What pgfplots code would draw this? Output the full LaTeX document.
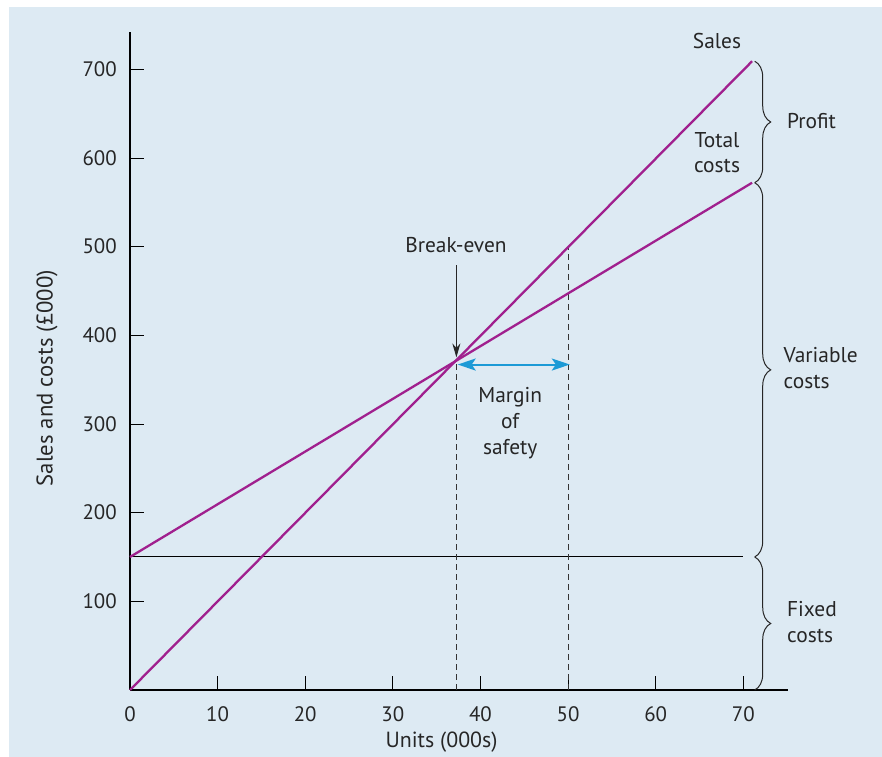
\documentclass[border=0pt]{standalone}
\usepackage{fontspec}
\setmainfont{PT Sans}
\usepackage{pgfplots}
\pgfplotsset{compat=1.18}
\usetikzlibrary{decorations.pathreplacing,arrows.meta}
\definecolor{bg}{HTML}{DDEAF3}
\definecolor{lineP}{HTML}{A0208E}
\definecolor{arrB}{HTML}{1C9AD6}
\tikzset{lbl/.style={font=\fontsize{21.5}{26}\selectfont, text=black!85}}
\begin{document}
\begin{tikzpicture}[x=1bp,y=1bp]
\useasboundingbox (0,0) rectangle (882,757);
\fill[white] (0,0) rectangle (882,757);
\fill[bg] (9,0) rectangle (882,750);
\begin{axis}[
  scale only axis, width=658bp, height=658bp,
  at={(130bp,67bp)}, anchor=south west,
  xmin=0, xmax=75.1, ymin=0, ymax=742,
  axis x line*=bottom, axis y line*=left,
  xtick={0,10,...,70}, ytick={100,200,...,700},
  tick align=inside, major tick length=14bp,
  tick style={black, line width=0.8bp},
  axis line style={black, line width=1.4bp},
  tick label style={font=\fontsize{21}{24}\selectfont, text=black!85},
  /pgf/number format/assume math mode=true,
  yticklabel style={inner sep=0pt, xshift=-13bp},
  xticklabel style={inner sep=0pt, yshift=-16bp},
  xlabel={Units (000s)},
  xlabel style={font=\fontsize{22}{24}\selectfont, text=black!85, at={(axis description cs:0.4735,0)}, anchor=center, yshift=-52bp},
  ylabel={Sales and costs (£000)},
  ylabel style={font=\fontsize{22.8}{24}\selectfont, text=black!85, at={(axis description cs:-0.126,0.474)}, anchor=center},
  clip=false,
]
% fixed costs
\addplot[black, line width=1bp] coordinates {(0,150) (70,150)};
% dashed verticals
\addplot[black!80, line width=1bp, dash pattern=on 6bp off 4bp] coordinates {(37.25,0) (37.25,372)};
\addplot[black!80, line width=1bp, dash pattern=on 6bp off 4bp] coordinates {(50,0) (50,499)};
% sales and total costs
\addplot[lineP, line width=2.3bp] coordinates {(0,0) (71,709)};
\addplot[lineP, line width=2.3bp] coordinates {(0,150) (71,572)};
% margin of safety arrow
\addplot[arrB, line width=2bp, {Stealth[length=18bp,width=12bp,inset=4bp]}-{Stealth[length=18bp,width=12bp,inset=4bp]}] coordinates {(37.4,367) (50.2,367)};
% break-even arrow
\addplot[black!85, line width=1bp, -{Stealth[length=14bp,width=8bp]}] coordinates {(37.25,479) (37.25,375)};
% braces
\draw[black!85, line width=1bp, decorate, decoration={brace, amplitude=16bp}] (axis cs:71.3,709) -- (axis cs:71.3,572);
\draw[black!85, line width=1bp, decorate, decoration={brace, amplitude=16bp}] (axis cs:71.3,572) -- (axis cs:71.3,150);
\draw[black!85, line width=1bp, decorate, decoration={brace, amplitude=16bp}] (axis cs:71.3,150) -- (axis cs:71.3,0);
% labels
\node[lbl] at (axis cs:37.2,502) {Break-even};
\node[lbl, align=center] at (axis cs:43.4,301) {Margin\\of\\safety};
\node[lbl] at (axis cs:67.0,732) {Sales};
\node[lbl, align=center] at (axis cs:67.0,606) {Total\\costs};
\node[lbl, anchor=west] at (axis cs:74.6,642) {Profit};
\node[lbl, anchor=west, align=left] at (axis cs:74.2,363) {Variable\\costs};
\node[lbl, anchor=west, align=left] at (axis cs:74.6,77) {Fixed\\costs};
\end{axis}
\end{tikzpicture}
\end{document}
